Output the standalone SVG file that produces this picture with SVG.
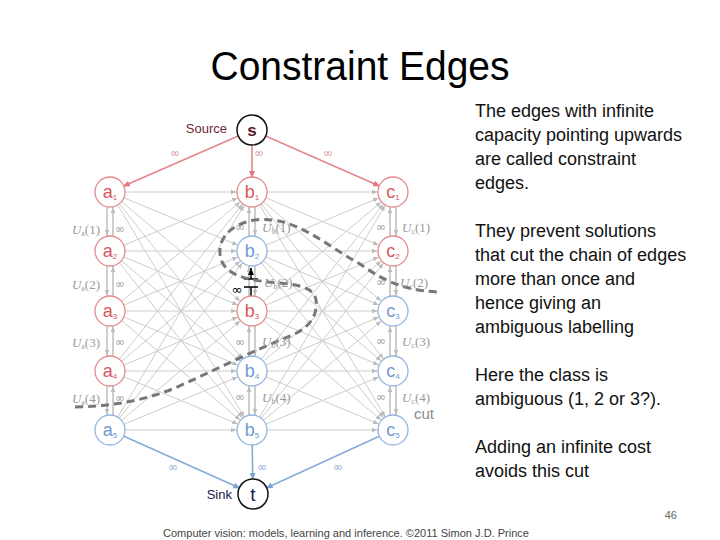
<svg xmlns="http://www.w3.org/2000/svg" width="720" height="540" viewBox="0 0 720 540">
<style>
.g{stroke:#cdcdcd;stroke-width:1;fill:none}
.v{stroke:#c2c2c2;stroke-width:1.6;fill:none}
.rn{fill:#fff;stroke:#e38a8c;stroke-width:1.3}
.bn{fill:#fff;stroke:#93b5df;stroke-width:1.3}
.rt{fill:#d9585c;font-family:"Liberation Sans",Arial,sans-serif;font-size:18px;text-anchor:middle}
.bt{fill:#6f9bd2;font-family:"Liberation Sans",Arial,sans-serif;font-size:18px;text-anchor:middle}
.u{fill:#9a9a9a;font-family:"Liberation Serif","Times New Roman",serif;font-size:13px}
.inf{fill:#a0a0a0;font-family:"DejaVu Sans",sans-serif;font-size:12px}
.body{fill:#111;font-family:"Liberation Sans",Arial,sans-serif;font-size:18px}
</style>
<defs>
<marker id="ag" markerUnits="userSpaceOnUse" markerWidth="30" markerHeight="10" viewBox="0 0 30 10" refX="21" refY="5" orient="auto"><path d="M0,2.7 L5.5,5 L0,7.3 z" fill="#bcbcbc"/></marker>
<marker id="ar" markerUnits="userSpaceOnUse" markerWidth="30" markerHeight="10" viewBox="0 0 30 10" refX="21" refY="5" orient="auto"><path d="M0,2 L7,5 L0,8 z" fill="#e07a7e"/></marker>
<marker id="ab" markerUnits="userSpaceOnUse" markerWidth="30" markerHeight="10" viewBox="0 0 30 10" refX="21" refY="5" orient="auto"><path d="M0,2 L7,5 L0,8 z" fill="#7ea5d8"/></marker>
<marker id="ak" markerUnits="userSpaceOnUse" markerWidth="10" markerHeight="10" viewBox="0 0 10 10" refX="7" refY="5" orient="auto"><path d="M0,2 L7,5 L0,8 z" fill="#000"/></marker>
</defs>
<rect width="720" height="540" fill="#fff"/>
<text x="360" y="80" text-anchor="middle" font-family="Liberation Sans,Arial,sans-serif" font-size="40" fill="#000" textLength="299" lengthAdjust="spacingAndGlyphs">Constraint Edges</text>

<g id="connectors">
<g class="g" marker-end="url(#ag)">
<line x1="110" y1="192" x2="252" y2="192"/><line x1="110" y1="192" x2="252" y2="251"/><line x1="110" y1="192" x2="252" y2="311"/><line x1="110" y1="192" x2="252" y2="371"/><line x1="110" y1="192" x2="252" y2="430"/>
<line x1="110" y1="251" x2="252" y2="192"/><line x1="110" y1="251" x2="252" y2="251"/><line x1="110" y1="251" x2="252" y2="311"/><line x1="110" y1="251" x2="252" y2="371"/><line x1="110" y1="251" x2="252" y2="430"/>
<line x1="110" y1="311" x2="252" y2="192"/><line x1="110" y1="311" x2="252" y2="251"/><line x1="110" y1="311" x2="252" y2="311"/><line x1="110" y1="311" x2="252" y2="371"/><line x1="110" y1="311" x2="252" y2="430"/>
<line x1="110" y1="371" x2="252" y2="192"/><line x1="110" y1="371" x2="252" y2="251"/><line x1="110" y1="371" x2="252" y2="311"/><line x1="110" y1="371" x2="252" y2="371"/><line x1="110" y1="371" x2="252" y2="430"/>
<line x1="110" y1="430" x2="252" y2="192"/><line x1="110" y1="430" x2="252" y2="251"/><line x1="110" y1="430" x2="252" y2="311"/><line x1="110" y1="430" x2="252" y2="371"/><line x1="110" y1="430" x2="252" y2="430"/>
<line x1="252" y1="192" x2="393" y2="192"/><line x1="252" y1="192" x2="393" y2="251"/><line x1="252" y1="192" x2="393" y2="311"/><line x1="252" y1="192" x2="393" y2="371"/><line x1="252" y1="192" x2="393" y2="430"/>
<line x1="252" y1="251" x2="393" y2="192"/><line x1="252" y1="251" x2="393" y2="251"/><line x1="252" y1="251" x2="393" y2="311"/><line x1="252" y1="251" x2="393" y2="371"/><line x1="252" y1="251" x2="393" y2="430"/>
<line x1="252" y1="311" x2="393" y2="192"/><line x1="252" y1="311" x2="393" y2="251"/><line x1="252" y1="311" x2="393" y2="311"/><line x1="252" y1="311" x2="393" y2="371"/><line x1="252" y1="311" x2="393" y2="430"/>
<line x1="252" y1="371" x2="393" y2="192"/><line x1="252" y1="371" x2="393" y2="251"/><line x1="252" y1="371" x2="393" y2="311"/><line x1="252" y1="371" x2="393" y2="371"/><line x1="252" y1="371" x2="393" y2="430"/>
<line x1="252" y1="430" x2="393" y2="192"/><line x1="252" y1="430" x2="393" y2="251"/><line x1="252" y1="430" x2="393" y2="311"/><line x1="252" y1="430" x2="393" y2="371"/><line x1="252" y1="430" x2="393" y2="430"/>
</g>
<g class="v" marker-end="url(#ag)">
<line x1="107" y1="192" x2="107" y2="251"/><line x1="113" y1="251" x2="113" y2="192"/>
<line x1="107" y1="251" x2="107" y2="311"/><line x1="113" y1="311" x2="113" y2="251"/>
<line x1="107" y1="311" x2="107" y2="371"/><line x1="113" y1="371" x2="113" y2="311"/>
<line x1="107" y1="371" x2="107" y2="430"/><line x1="113" y1="430" x2="113" y2="371"/>
<line x1="255" y1="192" x2="255" y2="251"/><line x1="249" y1="251" x2="249" y2="192"/>
<line x1="255" y1="251" x2="255" y2="311"/><line x1="249" y1="311" x2="249" y2="251"/>
<line x1="255" y1="311" x2="255" y2="371"/><line x1="249" y1="371" x2="249" y2="311"/>
<line x1="255" y1="371" x2="255" y2="430"/><line x1="249" y1="430" x2="249" y2="371"/>
<line x1="396" y1="192" x2="396" y2="251"/><line x1="390" y1="251" x2="390" y2="192"/>
<line x1="396" y1="251" x2="396" y2="311"/><line x1="390" y1="311" x2="390" y2="251"/>
<line x1="396" y1="311" x2="396" y2="371"/><line x1="390" y1="371" x2="390" y2="311"/>
<line x1="396" y1="371" x2="396" y2="430"/><line x1="390" y1="430" x2="390" y2="371"/>
</g>
<g stroke="#e3868a" stroke-width="1.6" marker-end="url(#ar)">
<line x1="252" y1="130" x2="110" y2="192"/><line x1="252" y1="130" x2="252" y2="192"/><line x1="252" y1="130" x2="393" y2="192"/>
</g>
<g stroke="#86aadb" stroke-width="1.6" marker-end="url(#ab)">
<line x1="110" y1="430" x2="253" y2="494"/><line x1="252" y1="430" x2="253" y2="494"/><line x1="393" y1="430" x2="253" y2="494"/>
</g>
<g stroke="#000" stroke-width="1.5" fill="none">
<line x1="251" y1="279" x2="251" y2="268" marker-end="url(#ak)"/>
<line x1="244" y1="279" x2="258" y2="279"/>
<line x1="244" y1="287" x2="258" y2="287"/>
<line x1="251" y1="287" x2="251" y2="296"/>
</g>
<path d="M75,407 C110,406 140,402 175,388 C215,370 255,350 290,336 C310,328 318,315 316,300 C314,288 300,285 280,283 C255,281 230,278 222,262 C215,245 225,225 255,220 C295,215 325,245 360,264 C380,278 400,290 437,292" fill="none" stroke="#777" stroke-width="3" stroke-dasharray="8 5"/>
</g>

<g id="edge-labels">
<g fill="#e39a9c" font-family="DejaVu Sans,sans-serif" font-size="12" text-anchor="middle">
<text x="175" y="157">∞</text><text x="259" y="157">∞</text><text x="328" y="157">∞</text>
</g>
<g fill="#93b3de" font-family="DejaVu Sans,sans-serif" font-size="12" text-anchor="middle">
<text x="173" y="471">∞</text><text x="262" y="471">∞</text><text x="338" y="471">∞</text>
</g>
<g class="inf">
<text x="115" y="233">∞</text><text x="115" y="288">∞</text><text x="115" y="346">∞</text><text x="115" y="402">∞</text>
<text x="235" y="231">∞</text><text x="235" y="346">∞</text><text x="235" y="401">∞</text>
<text x="376" y="231">∞</text><text x="376" y="286">∞</text><text x="376" y="345">∞</text><text x="376" y="401">∞</text>
</g>
<text x="237" y="294" font-family="DejaVu Sans,sans-serif" font-size="13" fill="#000" text-anchor="middle">∞</text>
<g class="u" text-anchor="end">
<text x="100" y="234"><tspan font-style="italic">U</tspan><tspan font-size="8" dy="2">a</tspan><tspan dy="-2">(1)</tspan></text>
<text x="100" y="289"><tspan font-style="italic">U</tspan><tspan font-size="8" dy="2">a</tspan><tspan dy="-2">(2)</tspan></text>
<text x="100" y="347"><tspan font-style="italic">U</tspan><tspan font-size="8" dy="2">a</tspan><tspan dy="-2">(3)</tspan></text>
<text x="100" y="403"><tspan font-style="italic">U</tspan><tspan font-size="8" dy="2">a</tspan><tspan dy="-2">(4)</tspan></text>
</g>
<g class="u">
<text x="262" y="232"><tspan font-style="italic">U</tspan><tspan font-size="8" dy="2">b</tspan><tspan dy="-2">(1)</tspan></text>
<text x="264" y="287"><tspan font-style="italic">U</tspan><tspan font-size="8" dy="2">b</tspan><tspan dy="-2">(2)</tspan></text>
<text x="262" y="346"><tspan font-style="italic">U</tspan><tspan font-size="8" dy="2">b</tspan><tspan dy="-2">(3)</tspan></text>
<text x="262" y="402"><tspan font-style="italic">U</tspan><tspan font-size="8" dy="2">b</tspan><tspan dy="-2">(4)</tspan></text>
<text x="402" y="232"><tspan font-style="italic">U</tspan><tspan font-size="8" dy="2">c</tspan><tspan dy="-2">(1)</tspan></text>
<text x="400" y="287"><tspan font-style="italic">U</tspan><tspan font-size="8" dy="2">c</tspan><tspan dy="-2">(2)</tspan></text>
<text x="402" y="346"><tspan font-style="italic">U</tspan><tspan font-size="8" dy="2">c</tspan><tspan dy="-2">(3)</tspan></text>
<text x="402" y="402"><tspan font-style="italic">U</tspan><tspan font-size="8" dy="2">c</tspan><tspan dy="-2">(4)</tspan></text>
</g>
<text x="414" y="419" font-family="Liberation Sans,Arial,sans-serif" font-size="15" fill="#8a8a8a">cut</text>
</g>

<g id="s"><circle cx="252" cy="130" r="15" fill="#fff" stroke="#111" stroke-width="1.5"/><text x="252" y="136" text-anchor="middle" font-family="Liberation Sans,Arial,sans-serif" font-size="17" font-weight="bold" fill="#5a1a22">s</text><text x="227" y="133" text-anchor="end" font-family="Liberation Sans,Arial,sans-serif" font-size="13" fill="#6e2a33">Source</text></g>
<g id="t"><circle cx="253" cy="494" r="15" fill="#fff" stroke="#111" stroke-width="1.5"/><text x="253" y="501" text-anchor="middle" font-family="Liberation Sans,Arial,sans-serif" font-size="19" fill="#1a1a4a">t</text><text x="232" y="499" text-anchor="end" font-family="Liberation Sans,Arial,sans-serif" font-size="13" fill="#1a1a4a">Sink</text></g>

<g id="a1"><circle class="rn" cx="110" cy="192" r="15"/><text class="rt" x="110" y="198">a<tspan font-size="8" dy="2">1</tspan></text></g>
<g id="a2"><circle class="rn" cx="110" cy="251" r="15"/><text class="rt" x="110" y="257">a<tspan font-size="8" dy="2">2</tspan></text></g>
<g id="a3"><circle class="rn" cx="110" cy="311" r="15"/><text class="rt" x="110" y="317">a<tspan font-size="8" dy="2">3</tspan></text></g>
<g id="a4"><circle class="rn" cx="110" cy="371" r="15"/><text class="rt" x="110" y="377">a<tspan font-size="8" dy="2">4</tspan></text></g>
<g id="a5"><circle class="bn" cx="110" cy="430" r="15"/><text class="bt" x="110" y="436">a<tspan font-size="8" dy="2">5</tspan></text></g>
<g id="b1"><circle class="rn" cx="252" cy="192" r="15"/><text class="rt" x="252" y="198">b<tspan font-size="8" dy="2">1</tspan></text></g>
<g id="b2"><circle class="bn" cx="252" cy="251" r="15"/><text class="bt" x="252" y="257">b<tspan font-size="8" dy="2">2</tspan></text></g>
<g id="b3"><circle class="rn" cx="252" cy="311" r="15"/><text class="rt" x="252" y="317">b<tspan font-size="8" dy="2">3</tspan></text></g>
<g id="b4"><circle class="bn" cx="252" cy="371" r="15"/><text class="bt" x="252" y="377">b<tspan font-size="8" dy="2">4</tspan></text></g>
<g id="b5"><circle class="bn" cx="252" cy="430" r="15"/><text class="bt" x="252" y="436">b<tspan font-size="8" dy="2">5</tspan></text></g>
<g id="c1"><circle class="rn" cx="393" cy="192" r="15"/><text class="rt" x="393" y="198">c<tspan font-size="8" dy="2">1</tspan></text></g>
<g id="c2"><circle class="rn" cx="393" cy="251" r="15"/><text class="rt" x="393" y="257">c<tspan font-size="8" dy="2">2</tspan></text></g>
<g id="c3"><circle class="bn" cx="393" cy="311" r="15"/><text class="bt" x="393" y="317">c<tspan font-size="8" dy="2">3</tspan></text></g>
<g id="c4"><circle class="bn" cx="393" cy="371" r="15"/><text class="bt" x="393" y="377">c<tspan font-size="8" dy="2">4</tspan></text></g>
<g id="c5"><circle class="bn" cx="393" cy="430" r="15"/><text class="bt" x="393" y="436">c<tspan font-size="8" dy="2">5</tspan></text></g>

<g id="body-text">
<text class="body" x="475" y="117">The edges with infinite</text>
<text class="body" x="475" y="141">capacity pointing upwards</text>
<text class="body" x="475" y="165">are called constraint</text>
<text class="body" x="475" y="189">edges.</text>
<text class="body" x="475" y="237">They prevent solutions</text>
<text class="body" x="475" y="261">that cut the chain of edges</text>
<text class="body" x="475" y="285">more than once and</text>
<text class="body" x="475" y="309">hence giving an</text>
<text class="body" x="475" y="333">ambiguous labelling</text>
<text class="body" x="475" y="381">Here the class is</text>
<text class="body" x="475" y="405">ambiguous (1, 2 or 3?).</text>
<text class="body" x="475" y="453">Adding an infinite cost</text>
<text class="body" x="475" y="477">avoids this cut</text>
<text x="677" y="519" text-anchor="end" font-family="Liberation Sans,Arial,sans-serif" font-size="11" fill="#666">46</text>
<text x="163" y="537" font-family="Liberation Sans,Arial,sans-serif" font-size="11" fill="#444" textLength="366" lengthAdjust="spacingAndGlyphs">Computer vision: models, learning and inference.  ©2011 Simon J.D. Prince</text>
</g>
</svg>
